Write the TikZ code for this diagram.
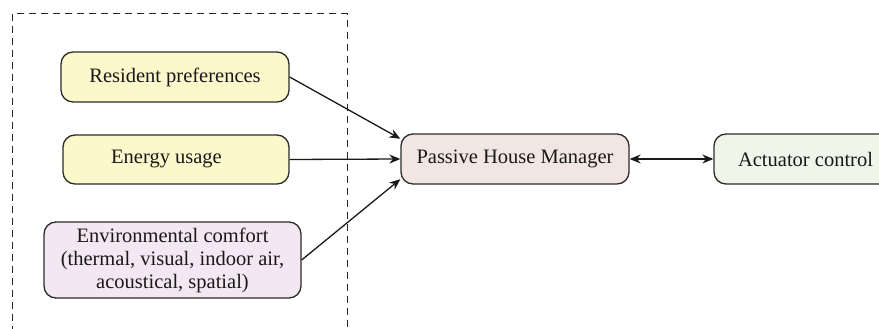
\documentclass[tikz,border=0pt]{standalone}
\usepackage{fontspec}
\setmainfont{Liberation Serif}
\usetikzlibrary{arrows.meta}

\definecolor{inputyellow}{HTML}{FBF8CC}
\definecolor{comfortpink}{HTML}{F3E8F1}
\definecolor{managerrose}{HTML}{F1E6E1}
\definecolor{actuatorgreen}{HTML}{EFF5E8}
\definecolor{edgegray}{HTML}{2B2B2B}

\tikzset{
  box/.style={draw=edgegray, line width=1.3pt, rounded corners=12pt,
    inner sep=0pt, align=center, text=black!90,
    font=\fontsize{20.5}{23}\selectfont},
  link/.style={draw=black!90, line width=1.3pt,
    -{Stealth[length=11pt,width=9pt]}},
  twoway/.style={draw=black!90, line width=1.3pt,
    {Stealth[length=11pt,width=9pt]}-{Stealth[length=11pt,width=9pt]}},
  group/.style={draw=black!85, line width=1pt, dash pattern=on 7pt off 5pt}
}

\begin{document}
\begin{tikzpicture}[x=1pt, y=-1pt]
  \clip (0,0) rectangle (879,329);
  \useasboundingbox (0,0) rectangle (879,329);

  % dashed frame around the input factors
  \draw[group] (12,345) -- (12,14) -- (347,14) -- (347,345);

  % input factors
  \node[box, fill=inputyellow, minimum width=228pt, minimum height=50pt]
    (pref) at (175,77) {Resident preferences};
  \node[box, fill=inputyellow, minimum width=226pt, minimum height=49pt]
    (energy) at (176,159.5) {Energy usage\hspace*{19pt}};
  \node[box, fill=comfortpink, minimum width=257pt, minimum height=76pt]
    (comfort) at (172.5,260) {Environmental comfort\\(thermal, visual, indoor air,\\acoustical, spatial)};

  % manager and actuator
  \node[box, fill=managerrose, minimum width=228pt, minimum height=50pt]
    (manager) at (515,159) {Passive House Manager};
  \node[box, fill=actuatorgreen, minimum width=183pt, minimum height=50pt]
    (actuator) at (805.5,159) {Actuator control};

  % connectors
  \draw[link] (pref.east) -- (manager.170);
  \draw[link] (energy.east) -- (manager.west);
  \draw[link] (comfort.east) -- (manager.190);
  \draw[twoway] (manager.east) -- (actuator.west);
\end{tikzpicture}
\end{document}
